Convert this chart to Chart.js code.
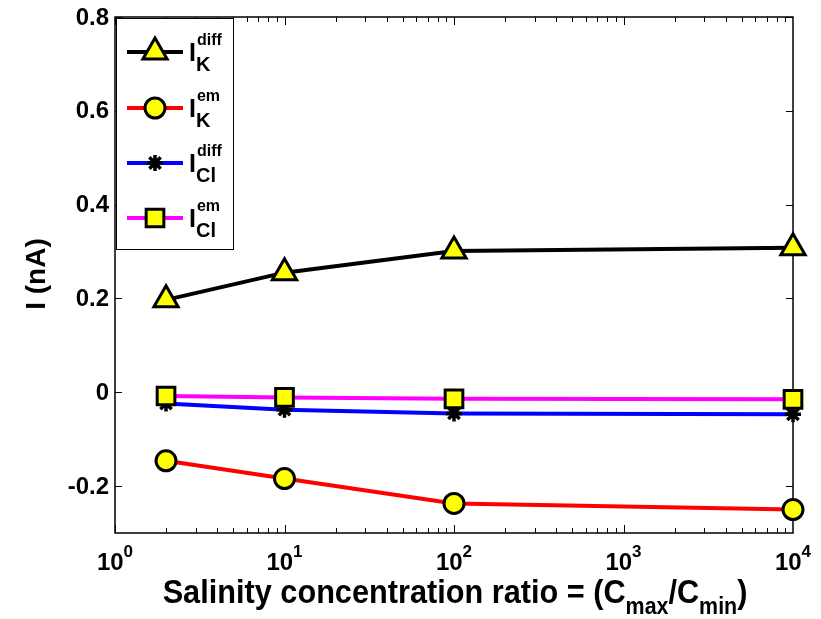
<!DOCTYPE html>
<html>
<head>
<meta charset="utf-8">
<script src="https://cdn.jsdelivr.net/npm/chart.js@4/dist/chart.umd.min.js"></script>
<style>
  html, body { margin: 0; padding: 0; background: #ffffff; }
  canvas { display: block; }
</style>
</head>
<body>
<canvas id="c" width="821" height="619"></canvas>
<script>
// ---- data ----
const ratios = [2, 10, 100, 10000];
const kDiff  = [0.197, 0.255, 0.301, 0.308];
const kEm    = [-0.146, -0.184, -0.237, -0.250];
const clDiff = [-0.024, -0.037, -0.045, -0.047];
const clEm   = [-0.008, -0.011, -0.014, -0.015];

const yTickValues = [-0.2, 0, 0.2, 0.4, 0.6, 0.8];
const yTickLabels = ['-0.2', '0', '0.2', '0.4', '0.6', '0.8'];
const xDecades = [0, 1, 2, 3, 4];

const legendLabels = [
  { base: 'I', sup: 'diff', sub: 'K' },
  { base: 'I', sup: 'em',   sub: 'K' },
  { base: 'I', sup: 'diff', sub: 'Cl' },
  { base: 'I', sup: 'em',   sub: 'Cl' }
];

const FONT = '"Liberation Sans", Arial, Helvetica, sans-serif';

function pts(ys) { return ratios.map((x, i) => ({ x: x, y: ys[i] })); }

const datasets = [
  { data: pts(kDiff),  borderColor: '#000000', pointStyle: 'triangle', pointRadius: 14, order: 4 },
  { data: pts(kEm),    borderColor: '#ff0000', pointStyle: 'circle',   pointRadius: 10, order: 3 },
  { data: pts(clDiff), borderColor: '#0000ff', pointStyle: 'star',     pointRadius: 8, order: 2 },
  { data: pts(clEm),   borderColor: '#ff00ff', pointStyle: 'rect',     pointRadius: 12.5, order: 1 }
].map(d => Object.assign({
  borderWidth: 4,
  tension: 0,
  clip: false,
  pointBackgroundColor: '#ffff00',
  pointBorderColor: '#000000',
  pointBorderWidth: 3,
  pointHoverRadius: 0
}, d));
datasets[2].pointBorderWidth = 3.5;
datasets[2].pointBackgroundColor = '#000000';

// draw a sequence of text parts (base / sup / sub) starting at x
function drawRich(ctx, parts, x, y, align, hScale) {
  const s = hScale || 1;
  let total = 0;
  parts.forEach(p => { ctx.font = p.font; p.w = ctx.measureText(p.text).width * s; total += p.w; });
  let cx = x;
  if (align === 'center') cx = x - total / 2;
  else if (align === 'right') cx = x - total;
  ctx.textAlign = 'left';
  ctx.textBaseline = 'alphabetic';
  parts.forEach(p => {
    ctx.font = p.font;
    ctx.save();
    ctx.translate(cx, y + (p.dy || 0));
    ctx.scale(s, 1);
    ctx.fillText(p.text, 0, 0);
    ctx.restore();
    cx += p.w;
  });
}

function drawMarker(ctx, ds, x, y) {
  const r = ds.pointRadius;
  ctx.save();
  ctx.lineWidth = ds.pointBorderWidth;
  ctx.strokeStyle = ds.pointBorderColor;
  ctx.fillStyle = ds.pointBackgroundColor;
  ctx.beginPath();
  if (ds.pointStyle === 'triangle') {
    ctx.moveTo(x, y - r);
    ctx.lineTo(x + Math.sin(2 * Math.PI / 3) * r, y - Math.cos(2 * Math.PI / 3) * r);
    ctx.lineTo(x + Math.sin(4 * Math.PI / 3) * r, y - Math.cos(4 * Math.PI / 3) * r);
    ctx.closePath();
    ctx.fill(); ctx.stroke();
  } else if (ds.pointStyle === 'circle') {
    ctx.arc(x, y, r, 0, Math.PI * 2);
    ctx.fill(); ctx.stroke();
  } else if (ds.pointStyle === 'rect') {
    const s = Math.SQRT1_2 * r;
    ctx.rect(x - s, y - s, 2 * s, 2 * s);
    ctx.fill(); ctx.stroke();
  } else if (ds.pointStyle === 'star') {
    for (let k = 0; k < 4; k++) {
      const a = k * Math.PI / 4;
      ctx.moveTo(x - Math.cos(a) * r, y - Math.sin(a) * r);
      ctx.lineTo(x + Math.cos(a) * r, y + Math.sin(a) * r);
    }
    ctx.stroke();
  }
  ctx.restore();
}

const axesPlugin = {
  id: 'matlabAxes',
  beforeDatasetsDraw(chart) {
    const ctx = chart.ctx;
    const a = chart.chartArea;
    const xs = chart.scales.x, ys = chart.scales.y;
    ctx.save();
    ctx.strokeStyle = '#000000';
    ctx.lineWidth = 1.5;
    ctx.strokeRect(a.left, a.top, a.right - a.left, a.bottom - a.top);
    ctx.lineWidth = 1;
    ctx.beginPath();
    // y ticks (left and right, inward)
    yTickValues.forEach(v => {
      const py = Math.round(ys.getPixelForValue(v)) + 0.5;
      ctx.moveTo(a.left, py); ctx.lineTo(a.left + 7, py);
      ctx.moveTo(a.right, py); ctx.lineTo(a.right - 7, py);
    });
    // x ticks: major and minor (log)
    for (let d = 0; d < 4; d++) {
      for (let k = 1; k <= 9; k++) {
        const v = k * Math.pow(10, d);
        const px = Math.round(xs.getPixelForValue(v)) + 0.5;
        const len = (k === 1) ? 8 : 5;
        ctx.moveTo(px, a.bottom); ctx.lineTo(px, a.bottom - len);
        ctx.moveTo(px, a.top); ctx.lineTo(px, a.top + len);
      }
    }
    ctx.stroke();
    ctx.restore();
  },
  afterDraw(chart) {
    const ctx = chart.ctx;
    const a = chart.chartArea;
    const xs = chart.scales.x, ys = chart.scales.y;
    ctx.save();
    ctx.fillStyle = '#000000';
    // y tick labels
    ctx.font = 'bold 24px ' + FONT;
    ctx.textAlign = 'right';
    ctx.textBaseline = 'middle';
    yTickValues.forEach((v, i) => {
      ctx.fillText(yTickLabels[i], 109, ys.getPixelForValue(v) + 1);
    });
    // x tick labels 10^d
    xDecades.forEach(d => {
      const px = xs.getPixelForValue(Math.pow(10, d));
      drawRich(ctx, [
        { text: '10', font: 'bold 24px ' + FONT },
        { text: String(d), font: 'bold 17px ' + FONT, dy: -13 }
      ], px, 570, 'center');
    });
    // x axis title
    const big = 'bold 33px ' + FONT, small = 'bold 23px ' + FONT;
    drawRich(ctx, [
      { text: 'Salinity concentration ratio = (C', font: big },
      { text: 'max', font: small, dy: 11 },
      { text: '/C', font: big },
      { text: 'min', font: small, dy: 11 },
      { text: ')', font: big }
    ], (a.left + a.right) / 2 + 1, 603, 'center', 0.93);
    // y axis title
    ctx.save();
    ctx.translate(45, 274);
    ctx.rotate(-Math.PI / 2);
    ctx.font = 'bold 28px ' + FONT;
    ctx.textAlign = 'center';
    ctx.textBaseline = 'alphabetic';
    ctx.fillText('I (nA)', 0, 0);
    ctx.restore();

    // legend
    const lx = 116, ly = 18, lw = 117, lh = 231;
    ctx.fillStyle = '#ffffff';
    ctx.fillRect(lx, ly, lw, lh);
    ctx.strokeStyle = '#000000';
    ctx.lineWidth = 1;
    ctx.strokeRect(lx + 0.5, ly + 0.5, lw, lh);
    const rowY = [52, 108, 163, 218];
    chart.data.datasets.forEach((ds, i) => {
      const y = rowY[i];
      ctx.beginPath();
      ctx.strokeStyle = ds.borderColor;
      ctx.lineWidth = ds.borderWidth;
      ctx.moveTo(127, y); ctx.lineTo(183, y);
      ctx.stroke();
      drawMarker(ctx, ds, 155, y);
      ctx.fillStyle = '#000000';
      const L = legendLabels[i];
      ctx.font = 'bold 25px ' + FONT;
      ctx.textAlign = 'left';
      ctx.textBaseline = 'alphabetic';
      ctx.fillText(L.base, 189, y + 9);
      const bw = ctx.measureText(L.base).width;
      ctx.font = 'bold 16px ' + FONT;
      ctx.fillText(L.sup, 189 + bw + 1, y - 7);
      ctx.font = 'bold 20px ' + FONT;
      ctx.fillText(L.sub, 189 + bw, y + 19);
    });
    ctx.restore();
  }
};

new Chart(document.getElementById('c'), {
  type: 'line',
  data: { datasets: datasets },
  options: {
    responsive: false,
    animation: false,
    devicePixelRatio: 1,
    parsing: true,
    layout: { padding: { left: 115, top: 17, right: 28, bottom: 86 } },
    plugins: { legend: { display: false }, tooltip: { enabled: false } },
    events: [],
    scales: {
      x: {
        type: 'logarithmic', min: 1, max: 10000,
        grid: { display: false, drawTicks: false, tickLength: 0 },
        border: { display: false },
        ticks: { display: false },
        title: { display: false }
      },
      y: {
        type: 'linear', min: -0.3, max: 0.8,
        grid: { display: false, drawTicks: false, tickLength: 0 },
        border: { display: false },
        ticks: { display: false },
        title: { display: false }
      }
    }
  },
  plugins: [axesPlugin]
});
</script>
</body>
</html>
